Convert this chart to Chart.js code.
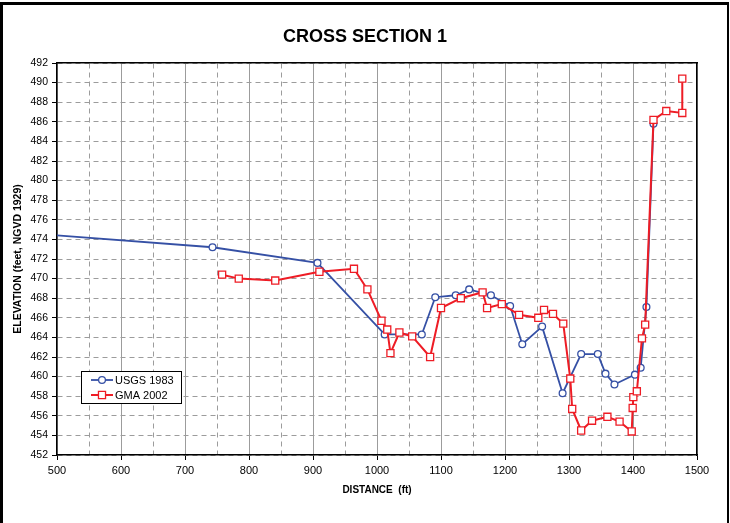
<!DOCTYPE html>
<html>
<head>
<meta charset="utf-8">
<script src="https://cdn.jsdelivr.net/npm/chart.js@4.4.1/dist/chart.umd.min.js"></script>
<style>
  html, body { margin: 0; padding: 0; background: #fff; }
  #holder { position: relative; width: 730px; height: 523px; overflow: hidden; }
  #c { position: absolute; left: 0; top: 0; }
  #frame { position: absolute; left: 0; top: 2px; width: 729px; height: 521px; box-sizing: border-box;
           border-left: 3px solid #000; border-top: 3px solid #000; border-right: 2px solid #000; pointer-events: none; }
</style>
</head>
<body>
<div id="holder">
  <canvas id="c" width="730" height="523"></canvas>
  <div id="frame"></div>
</div>
<script>
// ---- Data ----
const chartTitle = 'CROSS SECTION 1';
const xTitle = 'DISTANCE  (ft)';
const yTitle = 'ELEVATION (feet, NGVD 1929)';
const seriesNames = ['USGS 1983', 'GMA 2002'];

// USGS 1983 survey (first point lies left of the plotted range and is clipped)
const usgsX = [400, 743, 907, 1012, 1070, 1091, 1123, 1144, 1178, 1208, 1227, 1258, 1290, 1319, 1345, 1357, 1371, 1403, 1412, 1421, 1432];
const usgsY = [474.9, 473.2, 471.6, 464.3, 464.3, 468.1, 468.3, 468.9, 468.3, 467.2, 463.3, 465.1, 458.3, 462.3, 462.3, 460.3, 459.2, 460.2, 460.9, 467.1, 485.8];

// GMA 2002 survey
const gmaX = [758, 784, 841, 910, 964, 985, 1007, 1016, 1021, 1035, 1055, 1083, 1100, 1131, 1165, 1172, 1195, 1222, 1252, 1261, 1275, 1291, 1302, 1305, 1319, 1336, 1360, 1379, 1398, 1399.5, 1400.5, 1406, 1414, 1419, 1432, 1452, 1477, 1477];
const gmaY = [470.4, 470.0, 469.8, 470.7, 471.0, 468.9, 465.7, 464.8, 462.4, 464.5, 464.1, 462.0, 467.0, 468.0, 468.6, 467.0, 467.4, 466.3, 466.0, 466.8, 466.4, 465.4, 459.8, 456.7, 454.5, 455.5, 455.9, 455.4, 454.4, 456.8, 457.9, 458.5, 463.9, 465.3, 486.2, 487.1, 486.9, 490.4];

// Axis ranges / ticks
const xRange = [500, 1500];
const xMajorStep = 100;
const xMinorStep = 50;
const yRange = [452, 492];
const yStep = 2;

// ---- Styles ----
const FONT = '"Liberation Sans", Arial, Helvetica, sans-serif';
const BLUE = '#3550a5';
const RED = '#ee1c25';
const GRID = '#9c9c9c';

const toPts = (xs, ys) => xs.map((x, i) => ({ x: x, y: ys[i] }));

// Legend drawn inside the plot area
const insideLegend = {
  id: 'insideLegend',
  afterDraw(chart) {
    const ctx = chart.ctx;
    const a = chart.chartArea;
    const left = a.left + 24, top = a.top + 308, w = 100, h = 32;
    ctx.save();
    ctx.fillStyle = '#fff';
    ctx.fillRect(left, top, w, h);
    ctx.strokeStyle = '#000';
    ctx.lineWidth = 1;
    ctx.strokeRect(left + 0.5, top + 0.5, w, h);
    [0, 1].forEach((di, row) => {
      const ds = chart.data.datasets[di];
      const cy = top + 9 + row * 15;
      ctx.strokeStyle = ds.borderColor;
      ctx.lineWidth = ds.borderWidth;
      ctx.beginPath();
      ctx.moveTo(left + 10, cy);
      ctx.lineTo(left + 32, cy);
      ctx.stroke();
      const mx = left + 21;
      ctx.fillStyle = '#fff';
      ctx.strokeStyle = ds.pointBorderColor;
      ctx.lineWidth = ds.pointBorderWidth;
      ctx.beginPath();
      if (ds.pointStyle === 'rect') {
        const s = Math.SQRT1_2 * ds.pointRadius;
        ctx.rect(mx - s, cy - s, 2 * s, 2 * s);
      } else {
        ctx.arc(mx, cy, ds.pointRadius, 0, Math.PI * 2);
      }
      ctx.fill();
      ctx.stroke();
      ctx.fillStyle = '#000';
      ctx.font = '11px ' + FONT;
      ctx.textBaseline = 'middle';
      ctx.textAlign = 'left';
      ctx.fillText(ds.label, left + 34, cy + 0.5);
    });
    ctx.restore();
  }
};

new Chart(document.getElementById('c'), {
  type: 'line',
  data: {
    datasets: [
      {
        label: seriesNames[0],
        data: toPts(usgsX, usgsY),
        borderColor: BLUE,
        borderWidth: 1.8,
        pointStyle: 'circle',
        pointRadius: 3.4,
        pointBorderWidth: 1.3,
        pointBorderColor: BLUE,
        pointBackgroundColor: '#fff',
        tension: 0,
        order: 1
      },
      {
        label: seriesNames[1],
        data: toPts(gmaX, gmaY),
        borderColor: RED,
        borderWidth: 2,
        pointStyle: 'rect',
        pointRadius: 5,
        pointBorderWidth: 1.3,
        pointBorderColor: RED,
        pointBackgroundColor: '#fff',
        tension: 0,
        order: 0
      }
    ]
  },
  options: {
    responsive: false,
    animation: false,
    devicePixelRatio: 1,
    layout: { padding: { top: 7, left: 0, right: 0, bottom: 0 } },
    plugins: {
      legend: { display: false },
      tooltip: { enabled: false },
      title: {
        display: true,
        text: chartTitle,
        color: '#000',
        font: { family: FONT, size: 18, weight: 'bold', lineHeight: 1.2 },
        padding: { top: 19, bottom: 15.4 }
      }
    },
    scales: {
      x: {
        type: 'linear',
        position: 'bottom',
        min: xRange[0], max: xRange[1],
        afterFit(s) { s.height = 68; },
        ticks: {
          stepSize: xMajorStep,
          color: '#000',
          font: { family: FONT, size: 11 },
          padding: 4,
          maxRotation: 0,
          callback: (v) => String(v)
        },
        grid: { color: GRID, lineWidth: 1, drawTicks: true, tickLength: 5, tickColor: '#000', tickWidth: 1 },
        border: { color: '#000', width: 1.5 },
        title: {
          display: true, text: xTitle, color: '#000',
          font: { family: FONT, size: 10, weight: 'bold', lineHeight: 1.2 },
          padding: { top: 0, bottom: 27 }
        }
      },
      xMinor: {
        type: 'linear',
        position: 'top',
        min: xRange[0], max: xRange[1],
        afterFit(s) { s.height = 0; },
        ticks: { display: false, stepSize: xMinorStep },
        grid: {
          drawTicks: false,
          lineWidth: 1,
          color: (c) => (c.tick && c.tick.value % xMajorStep === 0) ? 'rgba(0,0,0,0)' : GRID
        },
        border: { display: true, color: '#000', width: 1.5, dash: [5, 4] }
      },
      y: {
        type: 'linear',
        position: 'left',
        min: yRange[0], max: yRange[1],
        afterFit(s) { s.width = 57; },
        ticks: {
          stepSize: yStep,
          color: '#000',
          font: { family: FONT, size: 10.5 },
          padding: 4,
          callback: (v) => String(v)
        },
        grid: { color: GRID, lineWidth: 1, drawTicks: true, tickLength: 5, tickColor: '#000', tickWidth: 1 },
        border: { color: '#000', width: 1.5, dash: [5, 4] },
        title: {
          display: true, text: yTitle, color: '#000',
          font: { family: FONT, size: 10.5, weight: 'bold', lineHeight: 1.2 },
          padding: { top: 11.7, bottom: 0 }
        }
      },
      yRight: {
        type: 'linear',
        position: 'right',
        min: yRange[0], max: yRange[1],
        afterFit(s) { s.width = 33; },
        ticks: { display: false },
        grid: { display: false },
        border: { display: true, color: '#000', width: 1.5 }
      }
    }
  },
  plugins: [insideLegend]
});
</script>
</body>
</html>
